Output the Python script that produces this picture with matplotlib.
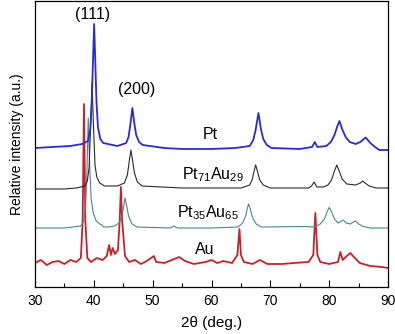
import matplotlib
matplotlib.use("Agg")
import matplotlib.pyplot as plt
from matplotlib.ticker import MultipleLocator

plt.rcParams['font.family'] = ['Liberation Sans', 'DejaVu Sans']
plt.rcParams['mathtext.default'] = 'regular'

# ---- data (2theta in degrees, intensity in arbitrary units, stacked) ----
pt_x = [30, 33, 36, 38, 39.0, 39.4, 39.65, 39.85, 40.05, 40.25, 40.45, 40.7, 41.1, 41.6, 44,
        45.5, 45.9, 46.2, 46.55, 46.9, 47.2, 47.7, 48.3, 52, 55, 60, 64, 66.5, 67.1, 67.5, 67.98,
        68.4, 68.8, 69.4, 70.2, 75, 77.1, 77.55, 78.0, 79.5, 80.3, 80.9, 81.4, 81.75, 82.2, 82.8,
        83.5, 84.5, 85.3, 86.2, 87.0, 87.8, 88.5, 90]
pt_y = [139, 140, 141, 143, 146, 158, 185, 225, 263, 225, 185, 160, 148, 144, 141,
        144, 150, 162, 179, 163, 152, 145, 142, 139, 138, 138, 139, 141, 147, 157, 174,
        158, 148, 142, 139, 138, 140, 145, 140, 141, 145, 152, 161, 166, 158, 150,
        145, 143, 145, 149.5, 144, 140, 137, 137]

pt71_x = [30, 35, 37, 38.5, 38.9, 39.2, 39.45, 39.7, 39.95, 40.2, 40.5, 41.0, 41.8, 44, 45.2,
          45.7, 46.0, 46.3, 46.6, 46.9, 47.4, 48.2, 55, 60, 65, 66.5, 66.9, 67.2, 67.5, 67.8,
          68.2, 68.8, 70, 76.5, 77.0, 77.45, 77.9, 79.0, 79.8, 80.4, 80.9, 81.3, 81.7, 82.2, 83,
          84.5, 85.3, 85.7, 86.1, 86.8, 88, 90]
pt71_y = [98, 98, 99, 101, 106, 120, 160, 204, 160, 122, 110, 104, 101, 101, 104,
          112, 125, 137, 126, 114, 105, 101, 99, 99, 99, 102, 107, 115, 122, 116,
          107, 102, 99, 99, 101, 105, 100, 100, 102, 107, 116, 122, 116, 108, 103,
          102, 104, 106, 104, 101, 99, 99]

pt35_x = [30, 35, 37.8, 38.3, 38.6, 38.85, 39.05, 39.3, 39.55, 39.9, 40.4, 41.0, 41.4, 41.6, 42.5,
          43.5, 44.3, 44.8, 45.1, 45.3, 45.55, 45.9, 46.5, 47.3, 53.0, 53.6, 54.2, 60, 64.5, 65.3,
          65.8, 66.1, 66.3, 66.6, 67.0, 67.6, 68.5, 75.7, 77.5, 78.5, 79.2, 79.7, 80.0, 80.35,
          80.9, 81.5, 82.0, 82.4, 82.9, 83.6, 84.1, 84.5, 85.0, 85.8, 87, 90]
pt35_y = [59, 59, 61, 66, 80, 120, 169, 120, 88, 74, 66, 63, 62, 60, 60,
          61, 64, 71, 82, 89, 82, 71, 63, 60, 59, 61, 59, 59, 60, 64,
          71, 79, 83, 78, 69, 63, 60, 60.5, 60, 63, 68, 76, 79.5, 76,
          68, 64, 65.5, 67, 64, 63, 65, 66, 63, 60.5, 59, 59]

au_x = [30, 31, 32, 33, 34, 35, 36, 37, 37.8, 38.1, 38.33, 38.55, 38.9, 39.5, 40.5, 41.5, 42.2,
        42.6, 42.9, 43.2, 43.6, 44.1, 44.4, 44.6, 44.8, 45.3, 46, 47, 48, 49, 50.2, 50.6, 52,
        54.5, 55.5, 57, 59, 60, 61, 62, 63.5, 64.4, 64.75, 65.0, 65.5, 67, 68.2, 69.5, 72, 74,
        76.5, 77.3, 77.65, 78.0, 78.5, 80, 81.5, 81.9, 82.3, 83.0, 83.6, 84.2, 85.2, 87, 89, 90]
au_y = [24, 27, 22, 25, 26, 23, 27, 25, 29, 67, 183, 67, 29, 25, 29, 27, 31,
        42, 32, 39, 33, 37, 67, 100, 67, 31, 25, 27, 23, 26, 31, 25, 24,
        30, 26, 23, 25, 27, 24, 26, 24, 32, 58, 32, 25, 23, 27, 23, 23, 24,
        25, 32, 74, 32, 25, 23, 25, 35, 27, 31, 34, 30, 24, 21, 20, 19]

x_ticks = [30, 40, 50, 60, 70, 80, 90]

fig = plt.figure(figsize=(3.95, 3.34), dpi=100)
ax = fig.add_axes([35 / 395, 1 - 287 / 334, (388 - 35) / 395, (287 - 1) / 334])

ax.plot(au_x, au_y, color='#c8202c', lw=1.3)
ax.plot(pt35_x, pt35_y, color='#4a8888', lw=0.8)
ax.plot(pt71_x, pt71_y, color='#2a2a2a', lw=0.8)
ax.plot(pt_x, pt_y, color='#2a2ad8', lw=1.3)

ax.set_xlim(30, 90)
ax.set_ylim(0, 286)
ax.set_xticks(x_ticks)
ax.set_xticklabels([str(t) for t in x_ticks], fontsize=10)
ax.xaxis.set_minor_locator(MultipleLocator(5))
ax.tick_params(axis='x', which='major', direction='in', length=5, width=0.8, pad=5)
ax.tick_params(axis='x', which='minor', direction='in', length=3, width=0.8)
ax.set_yticks([])
for s in ax.spines.values():
    s.set_linewidth(0.9)

ax.set_xlabel('2θ (deg.)', fontsize=11, labelpad=6)
ax.set_ylabel('Relative intensity (a.u.)', fontsize=10, labelpad=8)

ax.text(39.7, 273, '(111)', fontsize=11.5, ha='center', va='center')
ax.text(47.2, 197, '(200)', fontsize=11.5, ha='center', va='center')
ax.text(59.8, 152, 'Pt', fontsize=11.5, ha='center', va='center')
ax.text(55.0, 112, 'Pt$_{71}$Au$_{29}$', fontsize=11.5, ha='left', va='center')
ax.text(54.1, 74, 'Pt$_{35}$Au$_{65}$', fontsize=11.5, ha='left', va='center')
ax.text(57.2, 37, 'Au', fontsize=11.5, ha='left', va='center')

fig.savefig('out.png', dpi=100)
